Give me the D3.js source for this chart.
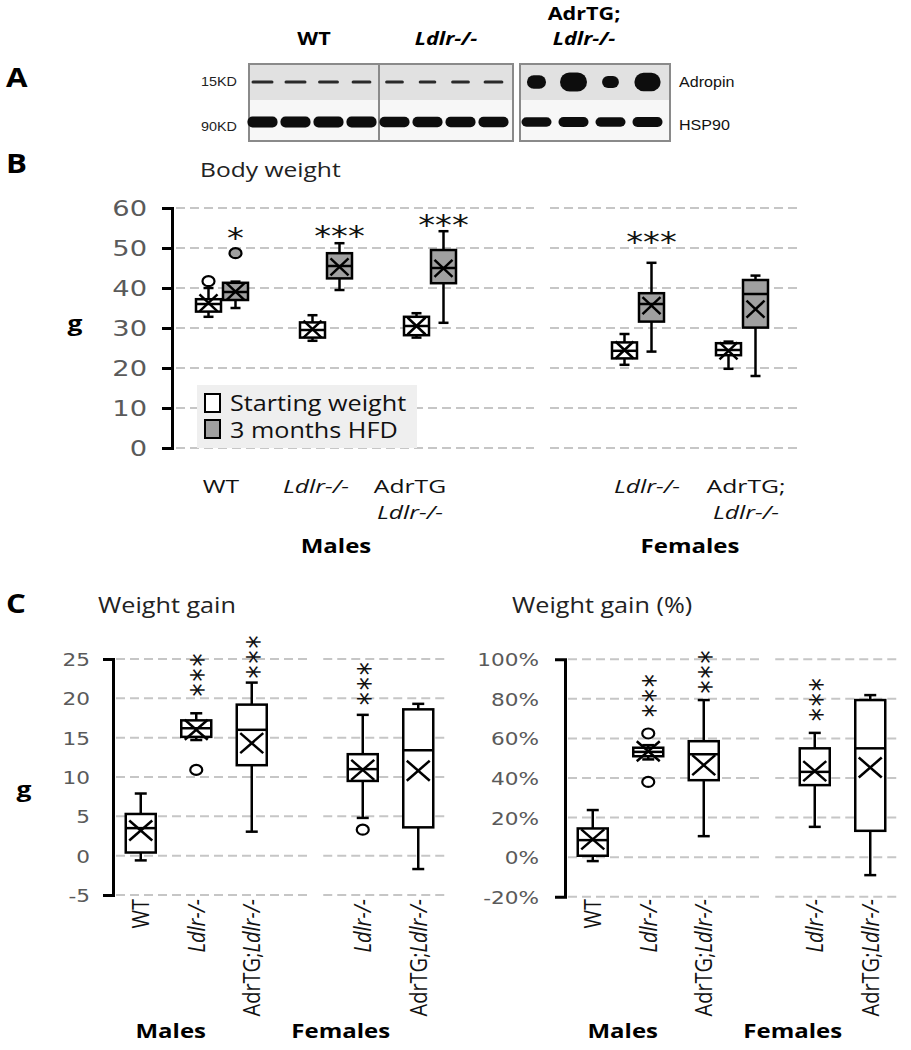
<!DOCTYPE html>
<html><head><meta charset="utf-8">
<script src="https://cdn.jsdelivr.net/npm/d3@7"></script>
<style>body{margin:0;background:#fff}</style>
</head><body>
<script>
// ================= DATA =================
// Panel A: western blot (relative band signal per lane)
const blotGroups = ["WT", "Ldlr-/-", "AdrTG;Ldlr-/-"];
const blotLaneGroup = [0,0,0,0, 1,1,1,1, 2,2,2,2];
const adropinSignal = [1.0,1.0,0.95,0.9, 0.85,0.8,0.85,0.9, 4.5,9.0,3.5,8.5];
const hsp90Signal = [1,1,1,1, 0.95,0.95,0.95,0.95, 0.85,0.9,0.85,0.9];
const blotRows = ["Adropin", "HSP90"];
const blotMarkers = ["15KD", "90KD"];

// Panel B: body weight, [min, q1, median, q3, max, mean]
const bwCategories = ["WT","Ldlr-/-","AdrTG;Ldlr-/-","gap","F Ldlr-/-","F AdrTG;Ldlr-/-"];
const bwSeries = ["Starting weight","3 months HFD"];
const bwStart = [[32.8,34.1,36,37.2,40,36.3],[26.8,27.6,29.5,31.4,33.2,29.7],[27.6,28.2,30.5,32.8,33.7,30.5],null,[20.8,22.4,24.3,26.4,28.5,24.5],[19.8,23.2,24.5,26.2,26.6,24.3]];
const bwHFD = [[35,37,39,41.3,41.6,39.1],[39.5,42.4,45.5,48.7,51.2,45.3],[31.3,41.2,45,49.5,54.2,44.9],null,[24.1,31.6,36,38.7,46.3,35.6],[18,30.1,38.5,42,43.1,34.7]];
const bwStartOutliers = [[41.7],[],[],null,[],[]];
const bwHFDOutliers = [[48.7],[],[],null,[],[]];
const bwSig = ["*","***","***","","***",""];
const bwSigAt = [54,54.5,57.3,null,53,null];
const bwTicks = [0,10,20,30,40,50,60];
const bwLabels = [["WT"],["Ldlr-/-"],["AdrTG","Ldlr-/-"],[],["Ldlr-/-"],["AdrTG;","Ldlr-/-"]];

// Panel C: weight gain (g) and weight gain (%)
const gainCategories = ["WT","Ldlr-/-","AdrTG;Ldlr-/-","gap","F Ldlr-/-","F AdrTG;Ldlr-/-"];
const gainG = [[-0.6,0.4,3.5,5.3,7.9,3.2],[14.7,15.1,16.2,17.2,18.1,16],[3.05,11.5,16,19.2,22,14.3],null,[4.8,9.5,11,12.9,17.9,10.9],[-1.7,3.6,13.4,18.6,19.3,10.8]];
const gainGOutliers = [[],[10.9],[],null,[3.3],[]];
const gainGSig = ["","***","***","","***",""];
const gainGSigAt = [null,21.3,23.6,null,20.2,null];
const gainGTicks = [-5,0,5,10,15,20,25];
const gainPct = [[-2,0.7,8.6,14.5,23.8,9],[49.4,51,53.2,55.3,56.6,53.5],[10.6,38.9,52,58.6,79.4,46.5],null,[15.3,36.4,43.1,55,62.8,43.5],[-9.1,13.3,55,79.4,81.9,45.3]];
const gainPctOutliers = [[],[62.5,38],[],null,[],[]];
const gainPctSig = ["","***","***","","***",""];
const gainPctSigAt = [null,75,87,null,73,null];
const gainPctTicks = [-20,0,20,40,60,80,100];
const gainLabels = [["WT"],["Ldlr-/-"],["AdrTG;","Ldlr-/-"],[],["Ldlr-/-"],["AdrTG;","Ldlr-/-"]];
const sexLabels = ["Males","Females"];

// ================= DRAWING =================
const SX = 1.2;
const SANS = "'Open Sans', sans-serif";
const NUM = "'DejaVu Sans', sans-serif";
const svg = d3.select("body").append("svg").attr("width",911).attr("height",1050);

const isItal = s => s.startsWith("Ldlr");
function htext(parent, x, y, parts, o = {}) {
  const t = parent.append("text")
    .attr("transform", `translate(${x},${y}) scale(${o.sx || SX},1)`)
    .attr("text-anchor", o.anchor || "start")
    .attr("font-size", o.size || 20)
    .attr("font-weight", o.weight || "normal")
    .attr("font-family", o.family || SANS)
    .attr("fill", o.fill || "#111");
  (Array.isArray(parts) ? parts : [parts]).forEach(p => {
    t.append("tspan").text(p).attr("font-style", isItal(p) ? "italic" : "normal");
  });
  return t;
}

// Panel letters
htext(svg, 6, 87, "A", {size: 26, weight: "bold", fill: "#000"});
htext(svg, 6, 173, "B", {size: 26, weight: "bold", fill: "#000"});
htext(svg, 6, 613, "C", {size: 26, weight: "bold", fill: "#000"});

// ---------- Panel A ----------
(function () {
  const g = svg.append("g");
  const defs = svg.append("defs");
  defs.append("filter").attr("id", "blur").append("feGaussianBlur").attr("stdDeviation", 0.7);
  const boxes = [[249, 513], [520, 670]];
  const top = 64, mid = 100, bot = 141;
  boxes.forEach(([a, b]) => {
    g.append("rect").attr("x", a).attr("y", top).attr("width", b - a).attr("height", mid - top).attr("fill", "#e1e1e1");
    g.append("rect").attr("x", a).attr("y", mid).attr("width", b - a).attr("height", bot - mid).attr("fill", "#f7f7f7");
    g.append("rect").attr("x", a).attr("y", top).attr("width", b - a).attr("height", bot - top)
      .attr("fill", "none").attr("stroke", "#8a8a8a").attr("stroke-width", 2);
  });
  g.append("line").attr("x1", 379).attr("x2", 379).attr("y1", top).attr("y2", bot).attr("stroke", "#8a8a8a").attr("stroke-width", 2);

  const laneL = d3.scaleBand().domain(d3.range(8)).range([246, 510]);
  const laneR = d3.scaleBand().domain(d3.range(4)).range([518, 666]);
  const laneX = i => i < 8 ? laneL(i) + laneL.bandwidth() / 2 : laneR(i - 8) + laneR.bandwidth() / 2;
  const blobW = d3.scaleSqrt().domain([0, 9]).range([0, 27]);
  const blobH = d3.scaleSqrt().domain([0, 9]).range([0, 19]);
  const bands = g.append("g").attr("filter", "url(#blur)");
  adropinSignal.forEach((s, i) => {
    const cx = laneX(i);
    let w, h;
    if (s > 2) { w = blobW(s); h = blobH(s); } else { w = 22 * s; h = 3; }
    bands.append("rect").attr("x", cx - w / 2).attr("y", 82 - h / 2).attr("width", w).attr("height", h)
      .attr("rx", Math.min(w, h) / 2).attr("fill", s > 2 ? "#111" : "#2a2a2a");
  });
  hsp90Signal.forEach((s, i) => {
    const cx = laneX(i), w = 30, h = 11 * s;
    bands.append("rect").attr("x", cx - w / 2).attr("y", 122 - h / 2).attr("width", w).attr("height", h)
      .attr("rx", 5).attr("fill", "#0c0c0c");
  });
  // headers
  htext(g, 314, 45, blotGroups[0], {size: 18, weight: "bold", anchor: "middle", fill: "#000"});
  htext(g, 446, 45, blotGroups[1], {size: 18, weight: "bold", anchor: "middle", fill: "#000"});
  const [l1, l2] = blotGroups[2].split(";");
  htext(g, 584, 20, l1 + ";", {size: 18, weight: "bold", anchor: "middle", fill: "#000"});
  htext(g, 584, 45, l2, {size: 18, weight: "bold", anchor: "middle", fill: "#000"});
  // row labels
  htext(g, 237, 86, blotMarkers[0], {size: 12.5, family: "'Liberation Sans', Arial, sans-serif", anchor: "end", fill: "#222", sx: 1.15});
  htext(g, 237, 131, blotMarkers[1], {size: 12.5, family: "'Liberation Sans', Arial, sans-serif", anchor: "end", fill: "#222", sx: 1.15});
  htext(g, 679, 87, blotRows[0], {size: 14, family: "'Liberation Sans', Arial, sans-serif", fill: "#111", sx: 1.15});
  htext(g, 679, 130, blotRows[1], {size: 14, family: "'Liberation Sans', Arial, sans-serif", fill: "#111", sx: 1.15});
})();

// ---------- helpers ----------
function gridlines(g, yS, ticks, x0, x1, gapC) {
  ticks.forEach(v => {
    const y = yS(v);
    [[x0, gapC], [gapC + 16, x1]].forEach(([a, b]) =>
      g.append("line").attr("x1", a).attr("x2", b).attr("y1", y).attr("y2", y)
        .attr("stroke", "#c6c6c6").attr("stroke-width", 2).attr("stroke-dasharray", "9,5"));
  });
}
function yAxis(g, x, yS, ticks, fmt, o) {
  const ax = d3.axisLeft(yS).tickValues(ticks).tickSizeInner(o.inner).tickSizeOuter(10).tickFormat(fmt);
  const a = g.append("g").attr("transform", `translate(${x},0)`).call(ax);
  a.attr("font-family", null).attr("font-size", null);
  a.select(".domain").attr("stroke", "#000").attr("stroke-width", 3);
  a.selectAll(".tick line").attr("stroke", "#000").attr("stroke-width", 3);
  a.selectAll(".tick text").attr("x", null).attr("dy", "0.36em")
    .attr("transform", `translate(${o.off},0) scale(${o.sx},1)`)
    .attr("font-family", NUM).attr("font-size", o.size).attr("fill", "#5a5a5a");
}
function drawBox(g, cx, st, outl, yS, o) {
  const [mn, q1, md, q3, mx, mean] = st;
  const ln = (x1, y1, x2, y2) => g.append("line").attr("x1", x1).attr("y1", y1).attr("x2", x2).attr("y2", y2)
    .attr("stroke", "#000").attr("stroke-width", o.sw);
  ln(cx, yS(mx), cx, yS(q3));
  ln(cx, yS(q1), cx, yS(mn));
  ln(cx - o.cap / 2, yS(mx), cx + o.cap / 2, yS(mx));
  ln(cx - o.cap / 2, yS(mn), cx + o.cap / 2, yS(mn));
  g.append("rect").attr("x", cx - o.w / 2).attr("y", yS(q3)).attr("width", o.w).attr("height", yS(q1) - yS(q3))
    .attr("fill", o.fill).attr("stroke", "#000").attr("stroke-width", o.sw);
  ln(cx - o.w / 2, yS(md), cx + o.w / 2, yS(md));
  const ym = yS(mean);
  ln(cx - o.xw, ym - o.xh, cx + o.xw, ym + o.xh);
  ln(cx - o.xw, ym + o.xh, cx + o.xw, ym - o.xh);
  (outl || []).forEach(v => g.append("ellipse").attr("cx", cx).attr("cy", yS(v)).attr("rx", o.r * 1.2).attr("ry", o.r)
    .attr("fill", o.fill).attr("stroke", "#000").attr("stroke-width", 2.2));
}
const plainFmt = d => String(d);

// ---------- Panel B ----------
(function () {
  const g = svg.append("g");
  const bx = d3.scaleBand().domain(bwCategories).range([170, 794]);
  const bx1 = d3.scaleBand().domain(bwSeries).range([-27, 27]);
  const by = d3.scaleLinear().domain([0, 60]).range([448, 208]);
  const cX = c => bx(c) + bx.bandwidth() / 2;
  htext(g, 200, 177, "Body weight", {size: 20.5, fill: "#222"});
  gridlines(g, by, bwTicks, 176, 797, cX("gap"));
  // legend
  const lg = g.append("g");
  lg.append("rect").attr("x", 197).attr("y", 385).attr("width", 220).attr("height", 63).attr("fill", "#efefef");
  const fills = ["#ffffff", "#a0a0a0"];
  bwSeries.forEach((s, i) => {
    lg.append("rect").attr("x", 205).attr("y", 394 + i * 26).attr("width", 15).attr("height", 18)
      .attr("fill", fills[i]).attr("stroke", "#000").attr("stroke-width", 2);
    htext(lg, 230, 411 + i * 27, s, {size: 21, fill: "#111"});
  });
  yAxis(g, 172, by, bwTicks, plainFmt, {inner: 10, off: -25, sx: 1.3, size: 21});
  htext(g, 75, 331, "g", {size: 22, weight: "bold", anchor: "middle", fill: "#000"});
  const opts = {w: 25, cap: 10, xw: 9, xh: 8.5, sw: 2.5, r: 5};
  bwCategories.forEach((c, i) => {
    if (!bwStart[i]) return;
    const base = cX(c);
    drawBox(g, base + bx1(bwSeries[0]) + bx1.bandwidth() / 2, bwStart[i], bwStartOutliers[i], by, {...opts, fill: fills[0]});
    drawBox(g, base + bx1(bwSeries[1]) + bx1.bandwidth() / 2, bwHFD[i], bwHFDOutliers[i], by, {...opts, fill: fills[1]});
    if (bwSig[i]) {
      htext(g, base + bx1(bwSeries[1]) + bx1.bandwidth() / 2, by(bwSigAt[i]) + 16, bwSig[i],
        {size: 28, family: NUM, anchor: "middle", fill: "#111"});
    }
  });
  // category labels
  const dx = [-1, -10, -20, 0, 9, 4];
  bwCategories.forEach((c, i) => {
    bwLabels[i].forEach((line, j) => htext(g, cX(c) + dx[i], 493 + j * 26, line, {size: 19, sx: 1.3, anchor: "middle", fill: "#111"}));
  });
  htext(g, cX(bwCategories[1]) + 10, 553, sexLabels[0], {size: 20, weight: "bold", anchor: "middle", fill: "#000"});
  htext(g, (cX(bwCategories[4]) + cX(bwCategories[5])) / 2, 553, sexLabels[1], {size: 20, weight: "bold", anchor: "middle", fill: "#000"});
})();

// ---------- Panel C ----------
function gainPanel(x0, x1, title, titleX, data, outliers, sig, sigAt, ticks, domain, fmt, labOff) {
  const g = svg.append("g");
  const bx = d3.scaleBand().domain(gainCategories).range([x0, x1]);
  const by = d3.scaleLinear().domain(domain).range(domain[0] === -5 ? [895, 659] : [896.7, 659.3]);
  const cX = c => bx(c) + bx.bandwidth() / 2;
  htext(g, titleX, 613, title, {size: 21, fill: "#222"});
  gridlines(g, by, ticks, x0 + 3, x1 + 1, cX("gap"));
  yAxis(g, x0, by, ticks, fmt, {inner: 0, off: labOff, sx: 1.2, size: 18});
  const opts = {w: 30, cap: 12, xw: 11.5, xh: 10, sw: 2.5, r: 5, fill: "#fff"};
  gainCategories.forEach((c, i) => {
    if (!data[i]) return;
    drawBox(g, cX(c), data[i], outliers[i], by, opts);
    if (sig[i]) {
      // vertical stack of asterisks: one text run turned upright
      g.append("text")
        .attr("transform", `translate(${cX(c) + 17},${by(sigAt[i]) - 14}) scale(${SX},1) rotate(-90)`)
        .attr("text-anchor", "middle").attr("font-size", 26).attr("font-family", NUM)
        .attr("letter-spacing", 2).attr("fill", "#111").text(sig[i]);
    }
    // rotated category labels
    const t = g.append("text")
      .attr("transform", `translate(${cX(c) + 8.5},899) scale(${SX},1) rotate(-90)`)
      .attr("text-anchor", "end").attr("font-size", 20).attr("font-family", SANS).attr("fill", "#111");
    gainLabels[i].forEach(p => t.append("tspan").text(p).attr("font-style", isItal(p) ? "italic" : "normal"));
  });
  htext(g, cX(gainCategories[0]) + 30, 1038, sexLabels[0], {size: 20, weight: "bold", anchor: "middle", fill: "#000"});
  htext(g, cX(gainCategories[4]) - 22, 1038, sexLabels[1], {size: 20, weight: "bold", anchor: "middle", fill: "#000"});
}
gainPanel(113, 446, "Weight gain", 98, gainG, gainGOutliers, gainGSig, gainGSigAt, gainGTicks, [-5, 25], plainFmt, -23);
gainPanel(565, 898, "Weight gain (%)", 512, gainPct, gainPctOutliers, gainPctSig, gainPctSigAt, gainPctTicks, [-20, 100], d => d + "%", -26);
htext(svg, 24, 797, "g", {size: 22, weight: "bold", anchor: "middle", fill: "#000"});
</script>
</body></html>
